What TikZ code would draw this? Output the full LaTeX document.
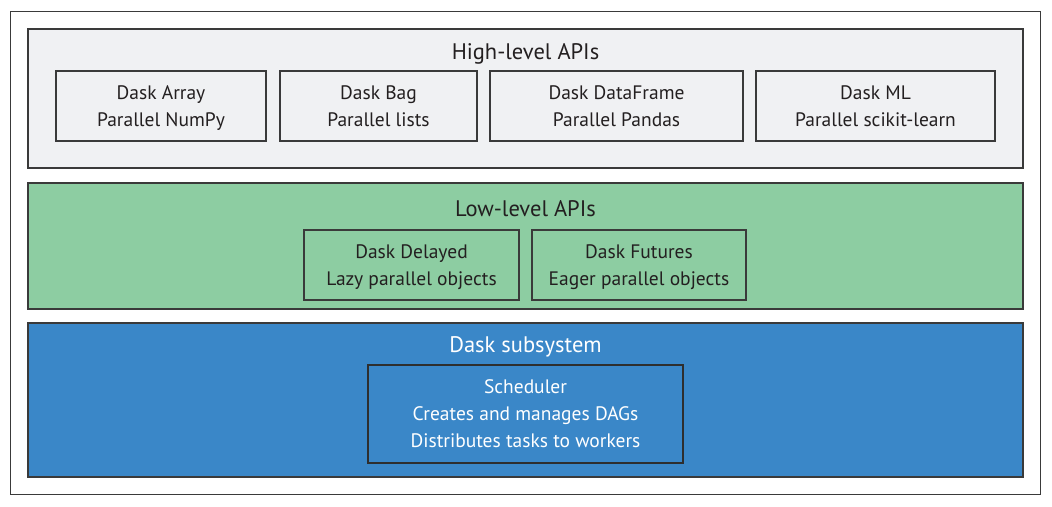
\documentclass[tikz,border=0pt]{standalone}
\usepackage{fontspec}
\setmainfont{PT Sans}
\definecolor{edge}{HTML}{3A3A3A}
\definecolor{txt}{HTML}{231F20}
\definecolor{hifill}{HTML}{F0F1F3}
\definecolor{lofill}{HTML}{8DCDA2}
\definecolor{subfill}{HTML}{3A87C8}
\newcommand\lnstrut{\rule[-6.7pt]{0pt}{27pt}}
\begin{document}
\begin{tikzpicture}[x=1pt,y=-1pt,
  layer/.style={draw=edge,line width=1.3pt,rectangle,inner sep=0pt},
  item/.style={draw=edge,line width=1.3pt,rectangle,inner sep=0pt,align=center,
    text=txt,font=\fontsize{19.5}{27}\selectfont},
  ttl/.style={text=txt,font=\fontsize{22.5}{27}\selectfont,inner sep=0pt,anchor=base}]
\useasboundingbox[fill=white] (0,0) rectangle (1052,506);
\node[draw=edge,line width=1pt,minimum width=1030,minimum height=483,inner sep=0pt] (outer) at (525.5,252.5) {};
% high level
\node[layer,fill=hifill,minimum width=995,minimum height=139] (hi) at (525.5,98.5) {};
\node[ttl] (hit) at (525.5,59.5) {High-level APIs};
\node[item,minimum width=210,minimum height=70] (arr) at (161,106) {\lnstrut Dask Array\\\lnstrut Parallel NumPy};
\node[item,minimum width=197,minimum height=70] (bag) at (378.5,106) {\lnstrut Dask Bag\\\lnstrut Parallel lists};
\node[item,minimum width=253,minimum height=70] (df) at (616.5,106) {\lnstrut Dask DataFrame\\\lnstrut Parallel Pandas};
\node[item,minimum width=239,minimum height=70] (ml) at (875.5,106) {\lnstrut Dask ML\\\lnstrut Parallel scikit-learn};
% low level
\node[layer,fill=lofill,minimum width=995,minimum height=126] (lo) at (525.5,246) {};
\node[ttl] (lot) at (525.5,216.7) {Low-level APIs};
\node[item,minimum width=215,minimum height=70] (del) at (411.5,265) {\lnstrut Dask Delayed\\\lnstrut Lazy parallel objects};
\node[item,minimum width=214,minimum height=70] (fut) at (639,265) {\lnstrut Dask Futures\\\lnstrut Eager parallel objects};
% subsystem
\node[layer,fill=subfill,minimum width=995,minimum height=154] (sub) at (525.5,400) {};
\node[ttl,text=white] (subt) at (525.5,352.7) {Dask subsystem};
\node[item,draw=edge!80!black,text=white,minimum width=315,minimum height=98] (sch) at (525.5,414) {\lnstrut Scheduler\\\lnstrut Creates and manages DAGs\\\lnstrut Distributes tasks to workers};
\end{tikzpicture}
\end{document}
